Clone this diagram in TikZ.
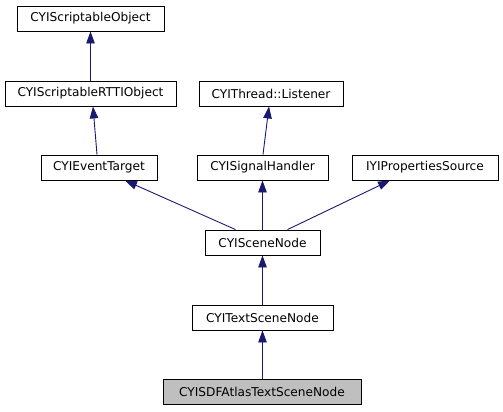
\documentclass[tikz,border=0pt]{standalone}
\usepackage{fontspec}
\setmainfont{DejaVu Sans}
\usetikzlibrary{arrows.meta}
\definecolor{edgeblue}{HTML}{191970}
\definecolor{grayfill}{HTML}{BFBFBF}
\tikzset{
  cls/.style={draw=black, line width=0.9bp, fill=white, inner sep=0pt, minimum height=25bp, font=\fontsize{12.2}{14}\selectfont},
  inh/.style={draw=edgeblue, line width=0.9bp, -{Triangle[length=12bp,width=8.5bp]}, color=edgeblue}
}
\begin{document}
\begin{tikzpicture}[x=1bp,y=-1bp]
\useasboundingbox (0,0) rectangle (503,411);
\node[cls, minimum width=147bp] (so) at (90.5,18.5) {CYIScriptableObject};
\node[cls, minimum width=171bp] (rtti) at (90.5,93.5) {CYIScriptableRTTIObject};
\node[cls, minimum width=144bp] (tl) at (271,93.5) {CYIThread::Listener};
\node[cls, minimum width=116bp] (et) at (99,167.5) {CYIEventTarget};
\node[cls, minimum width=131bp] (sh) at (262.5,167.5) {CYISignalHandler};
\node[cls, minimum width=146bp] (ps) at (425,167.5) {IYIPropertiesSource};
\node[cls, minimum width=115bp] (sn) at (262.5,242.5) {CYISceneNode};
\node[cls, minimum width=141bp] (tsn) at (262.5,317.5) {CYITextSceneNode};
\node[cls, minimum width=198bp, fill=grayfill] (sdf) at (262,391.5) {CYISDFAtlasTextSceneNode};

\draw[inh] (rtti.north) -- (so.south);
\draw[inh] ([xshift=-2bp]et.north) -- ([xshift=2.5bp]rtti.south);
\draw[inh] ([xshift=0.5bp]sh.north) -- ([xshift=-2bp]tl.south);
\draw[inh] ([xshift=-27bp]sn.north) -- ([xshift=26bp]et.south);
\draw[inh] (sn.north) -- (sh.south);
\draw[inh] ([xshift=25bp]sn.north) -- ([xshift=-35bp]ps.south);
\draw[inh] (tsn.north) -- (sn.south);
\draw[inh] ([xshift=0.5bp]sdf.north) -- (tsn.south);
\end{tikzpicture}
\end{document}
